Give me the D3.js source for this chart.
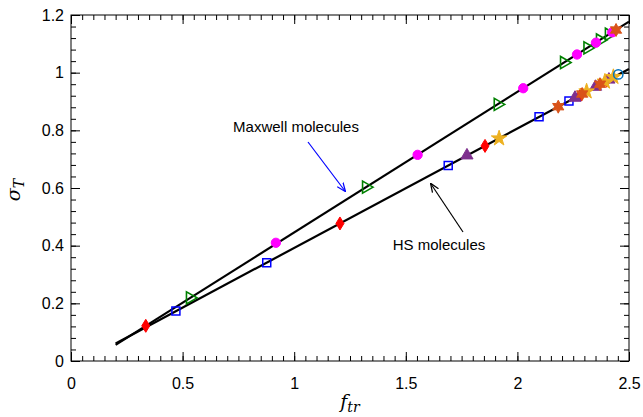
<!doctype html>
<html>
<head>
<script src="https://d3js.org/d3.v7.min.js"></script>
<style>
body{margin:0;background:#fff;}
.chart text{font-family:"Liberation Sans",Arial,Helvetica,sans-serif;}
.axis path{display:none;}
.axis line{stroke:#000;stroke-width:1;}
</style>
</head>
<body>
<svg width="643" height="417" class="chart"></svg>
<script>
// tick values
var xTicks = [0, 0.5, 1, 1.5, 2, 2.5];
var yTicks = [0, 0.2, 0.4, 0.6, 0.8, 1, 1.2];
var xLabels = ["0", "0.5", "1", "1.5", "2", "2.5"];
var yLabels = ["0", "0.2", "0.4", "0.6", "0.8", "1", "1.2"];

// fitted lines (f_tr, sigma_T)
var lineX = [0.2, 2.5];
var maxwellY = [0.056, 1.177];
var hsY = [0.061, 1.013];

// Maxwell molecules markers
var mxTriX = [0.533, 1.322, 1.912, 2.209, 2.314, 2.37, 2.41];
var mxTriY = [0.219, 0.603, 0.890, 1.035, 1.086, 1.113, 1.133];
var mxCircX = [0.918, 1.553, 2.026, 2.267, 2.352, 2.425];
var mxCircY = [0.410, 0.715, 0.946, 1.063, 1.104, 1.140];
var mxHexX = [2.442];
var mxHexY = [1.148];

// HS molecules markers
var hsDiaX = [0.335, 1.205, 1.855, 2.285, 2.40];
var hsDiaY = [0.122, 0.477, 0.746, 0.924, 0.972];
var hsSqX = [0.470, 0.877, 1.690, 2.097, 2.231];
var hsSqY = [0.173, 0.341, 0.678, 0.847, 0.902];
var hsTriX = [1.774, 2.258, 2.35, 2.41];
var hsTriY = [0.713, 0.913, 0.951, 0.976];
var hsStarX = [1.918, 2.310, 2.392, 2.43];
var hsStarY = [0.772, 0.935, 0.969, 0.985];
var hsHexX = [2.183, 2.29, 2.37];
var hsHexY = [0.882, 0.926, 0.960];
var hsCircX = [2.452];
var hsCircY = [0.994];

var svg = d3.select(".chart"),
    mLeft = 71, mTop = 15,
    width = 558, height = 346;

var x = d3.scaleLinear().domain([0, 2.5]).range([0, width]);
var y = d3.scaleLinear().domain([0, 1.2]).range([height, 0]);

var g = svg.append("g").attr("transform", "translate(" + mLeft + "," + mTop + ")");

var xMinor = d3.range(0, 2.501, 0.05);
var yMinor = d3.range(0, 1.201, 0.04);

// minor ticks, all four sides
g.append("g").attr("class", "axis").attr("transform", "translate(0," + height + ")")
  .call(d3.axisBottom(x).tickValues(xMinor).tickSizeInner(-5).tickSizeOuter(0).tickFormat(""));
g.append("g").attr("class", "axis")
  .call(d3.axisTop(x).tickValues(xMinor).tickSizeInner(-5).tickSizeOuter(0).tickFormat(""));
g.append("g").attr("class", "axis")
  .call(d3.axisLeft(y).tickValues(yMinor).tickSizeInner(-5).tickSizeOuter(0).tickFormat(""));
g.append("g").attr("class", "axis").attr("transform", "translate(" + width + ",0)")
  .call(d3.axisRight(y).tickValues(yMinor).tickSizeInner(-5).tickSizeOuter(0).tickFormat(""));

// major ticks
g.append("g").attr("class", "axis").attr("transform", "translate(0," + height + ")")
  .call(d3.axisBottom(x).tickValues(xTicks).tickSizeInner(-9).tickSizeOuter(0).tickPadding(17)
    .tickFormat(function(d, i) { return xLabels[i]; }))
  .selectAll("text").style("font-size", "16px").attr("fill", "#000");
g.append("g").attr("class", "axis")
  .call(d3.axisTop(x).tickValues(xTicks).tickSizeInner(-9).tickSizeOuter(0).tickFormat(""));
g.append("g").attr("class", "axis")
  .call(d3.axisLeft(y).tickValues(yTicks).tickSizeInner(-9).tickSizeOuter(0).tickPadding(7)
    .tickFormat(function(d, i) { return yLabels[i]; }))
  .selectAll("text").style("font-size", "16px").attr("fill", "#000");
g.append("g").attr("class", "axis").attr("transform", "translate(" + width + ",0)")
  .call(d3.axisRight(y).tickValues(yTicks).tickSizeInner(-9).tickSizeOuter(0).tickFormat(""));

// frame
g.append("rect").attr("width", width).attr("height", height)
  .style("fill", "none").style("stroke", "#000").style("stroke-width", 1);

var plot = g.append("g");

var line = d3.line().x(function(d) { return x(d[0]); }).y(function(d) { return y(d[1]); });
plot.append("path").datum(d3.zip(lineX, maxwellY)).attr("d", line)
  .style("fill", "none").style("stroke", "#000").style("stroke-width", 2.2);
plot.append("path").datum(d3.zip(lineX, hsY)).attr("d", line)
  .style("fill", "none").style("stroke", "#000").style("stroke-width", 2.2);

// custom shapes
function hexagram(r) {
  var p = [];
  for (var k = 0; k < 12; k++) {
    var a = Math.PI / 6 * k - Math.PI / 2;
    var rr = k % 2 ? r * 0.55 : r;
    p.push([rr * Math.cos(a), rr * Math.sin(a)]);
  }
  return "M" + p.join("L") + "Z";
}
function diamond(w, h) {
  return "M0," + (-h) + "L" + w + ",0L0," + h + "L" + (-w) + ",0Z";
}

function drawMarks(xs, ys, path, fill, stroke, sw, rot) {
  plot.append("g").selectAll("path")
    .data(d3.zip(xs, ys))
    .enter().append("path")
    .attr("d", path)
    .attr("transform", function(d) {
      return "translate(" + x(d[0]) + "," + y(d[1]) + ")" + (rot ? " rotate(" + rot + ")" : "");
    })
    .style("fill", fill)
    .style("stroke", stroke)
    .style("stroke-width", sw);
}

var tri = d3.symbol().type(d3.symbolTriangle).size(64)();
var sq = "M-4,-4H4V4H-4Z";
var circ = d3.symbol().type(d3.symbolCircle).size(68)();
var star = d3.symbol().type(d3.symbolStar).size(75)();

drawMarks(mxTriX, mxTriY, tri, "none", "#008000", 1.6, 90);
drawMarks(mxCircX, mxCircY, circ, "#ff00ff", "#ff00ff", 1);
drawMarks(mxHexX, mxHexY, hexagram(6.5), "#d95319", "#d95319", 1);

drawMarks(hsDiaX, hsDiaY, diamond(4, 6.5), "#ff0000", "#ff0000", 1);
drawMarks(hsSqX, hsSqY, sq, "none", "#0000ff", 1.5);
drawMarks(hsTriX, hsTriY, tri, "#7e2f8e", "#7e2f8e", 1);
drawMarks(hsStarX, hsStarY, star, "#edb120", "#edb120", 1);
drawMarks(hsHexX, hsHexY, hexagram(6.5), "#d95319", "#d95319", 1);
drawMarks(hsCircX, hsCircY, circ, "none", "#0072bd", 1.5);

// arrows
var defs = svg.append("defs");
function head(id, color) {
  defs.append("marker").attr("id", id).attr("viewBox", "0 0 10 10")
    .attr("refX", 9).attr("refY", 5).attr("markerWidth", 9).attr("markerHeight", 9)
    .attr("markerUnits", "userSpaceOnUse").attr("orient", "auto")
    .append("path").attr("d", "M0,1L10,5L0,9").style("fill", "none")
    .style("stroke", color).style("stroke-width", 1.4);
}
head("ab", "#0000ff");
head("ak", "#000");

svg.append("line").attr("x1", 308).attr("y1", 142).attr("x2", 345).attr("y2", 191)
  .style("stroke", "#0000ff").style("stroke-width", 1.2).attr("marker-end", "url(#ab)");
svg.append("line").attr("x1", 463).attr("y1", 232).attr("x2", 431).attr("y2", 184)
  .style("stroke", "#000").style("stroke-width", 1.2).attr("marker-end", "url(#ak)");

svg.append("text").attr("x", 296).attr("y", 132).attr("text-anchor", "middle")
  .style("font-size", "15px").text("Maxwell molecules");
svg.append("text").attr("x", 439).attr("y", 250).attr("text-anchor", "middle")
  .style("font-size", "15px").text("HS molecules");

// axis labels
var xl = svg.append("text").attr("x", 350).attr("y", 408).attr("text-anchor", "middle")
  .style("font-family", "'DejaVu Serif','Liberation Serif',serif").style("font-style", "italic")
  .style("font-size", "19px");
xl.append("tspan").text("f");
xl.append("tspan").attr("dy", 4).style("font-size", "14px").text("tr");

var yl = svg.append("text").attr("transform", "translate(20,190) rotate(-90)").attr("text-anchor", "middle")
  .style("font-family", "'DejaVu Serif','Liberation Serif',serif").style("font-style", "italic")
  .style("font-size", "19px");
yl.append("tspan").text("σ");
yl.append("tspan").attr("dy", 4).style("font-size", "14px").text("T");
</script>
</body>
</html>
